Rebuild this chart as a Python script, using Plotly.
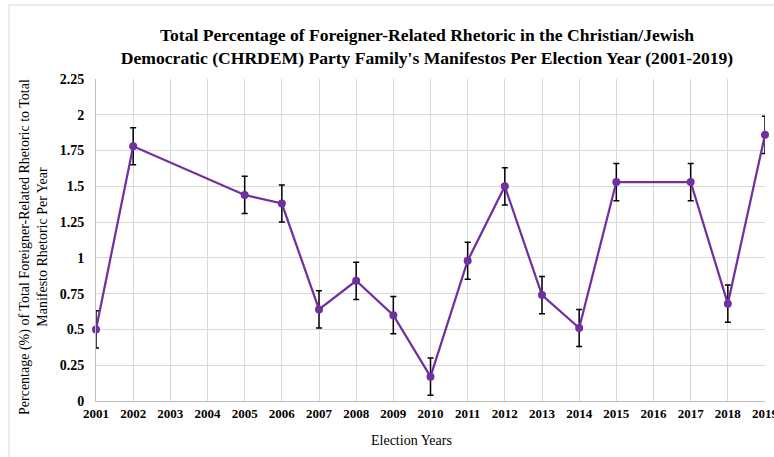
import plotly.graph_objects as go

# Election years on the category axis (years without an election are kept as empty slots)
all_years = [str(y) for y in range(2001, 2020)]
ytick_vals = [0, 0.25, 0.5, 0.75, 1, 1.25, 1.5, 1.75, 2, 2.25]
ytick_text = ["0", "0.25", "0.5", "0.75", "1", "1.25", "1.5", "1.75", "2", "2.25"]

# CHRDEM share of foreigner-related rhetoric per election year
years = ["2001", "2002", "2005", "2006", "2007", "2008", "2009", "2010", "2011",
         "2012", "2013", "2014", "2015", "2017", "2018", "2019"]
share = [0.50, 1.78, 1.44, 1.38, 0.64, 0.84, 0.60, 0.17, 0.98,
         1.50, 0.74, 0.51, 1.53, 1.53, 0.68, 1.86]
err = [0.13] * len(years)

PURPLE = "#7030A0"
SERIF = "Liberation Serif"

fig = go.Figure()
fig.add_trace(go.Scatter(
    x=years, y=share,
    mode="lines+markers",
    line=dict(color=PURPLE, width=2.25),
    marker=dict(color=PURPLE, size=8),
    error_y=dict(type="data", array=err, visible=True,
                 color="#000000", thickness=1.5, width=3),
    cliponaxis=False,
    showlegend=False,
))

L, R, T, B = 96, 9, 79, 56
W, H = 774, 457
pw, ph = W - L - R, H - T - B

fig.update_layout(
    width=W, height=H,
    margin=dict(l=L, r=R, t=T, b=B, autoexpand=False),
    paper_bgcolor="white", plot_bgcolor="white",
    font=dict(family=SERIF, color="#000000"),
    title=dict(
        text="Total Percentage of Foreigner-Related Rhetoric in the Christian/Jewish<br>"
             "Democratic (CHRDEM) Party Family's Manifestos Per Election Year (2001-2019)",
        x=(427 / W), xanchor="center", y=1 - 41 / H, yanchor="middle",
        font=dict(family=SERIF, size=17.6, weight="bold", color="#000000"),
    ),
    xaxis=dict(
        type="category", categoryorder="array", categoryarray=all_years,
        range=[0, len(all_years) - 1], automargin=False,
        showgrid=True, gridcolor="#d9d9d9", gridwidth=1,
        showline=True, linecolor="#bfbfbf", linewidth=1,
        ticks="", tickfont=dict(family=SERIF, size=13, weight="bold"),
        fixedrange=True,
    ),
    yaxis=dict(
        range=[0, 2.25], tickvals=ytick_vals, ticktext=ytick_text,
        automargin=False,
        showgrid=True, gridcolor="#d9d9d9", gridwidth=1,
        showline=True, linecolor="#bfbfbf", linewidth=1,
        zeroline=False,
        ticks="", ticklabelstandoff=8,
        tickfont=dict(family=SERIF, size=14, weight="bold"),
    ),
    annotations=[
        dict(text="Percentage (%) of Total Foreigner-Related Rhetoric to Total<br>"
                  "Manifesto Rhetoric Per Year",
             xref="paper", yref="paper",
             x=(33 - L) / pw, y=(H - B - 247) / ph,
             textangle=-90, showarrow=False,
             xanchor="center", yanchor="middle",
             font=dict(family=SERIF, size=14, color="#000000")),
        dict(text="Election Years",
             xref="paper", yref="paper",
             x=(411 - L) / pw, y=(H - B - 440) / ph,
             showarrow=False, xanchor="center", yanchor="middle",
             font=dict(family=SERIF, size=14, color="#000000")),
    ],
    shapes=[
        # outer chart border
        dict(type="rect", xref="paper", yref="paper",
             x0=(9 - L) / pw, x1=1.2, y0=-0.4, y1=(H - B - 5) / ph,
             line=dict(color="#d9d9d9", width=1), fillcolor="rgba(0,0,0,0)",
             layer="below"),
    ],
)

fig.write_html("out.html")
